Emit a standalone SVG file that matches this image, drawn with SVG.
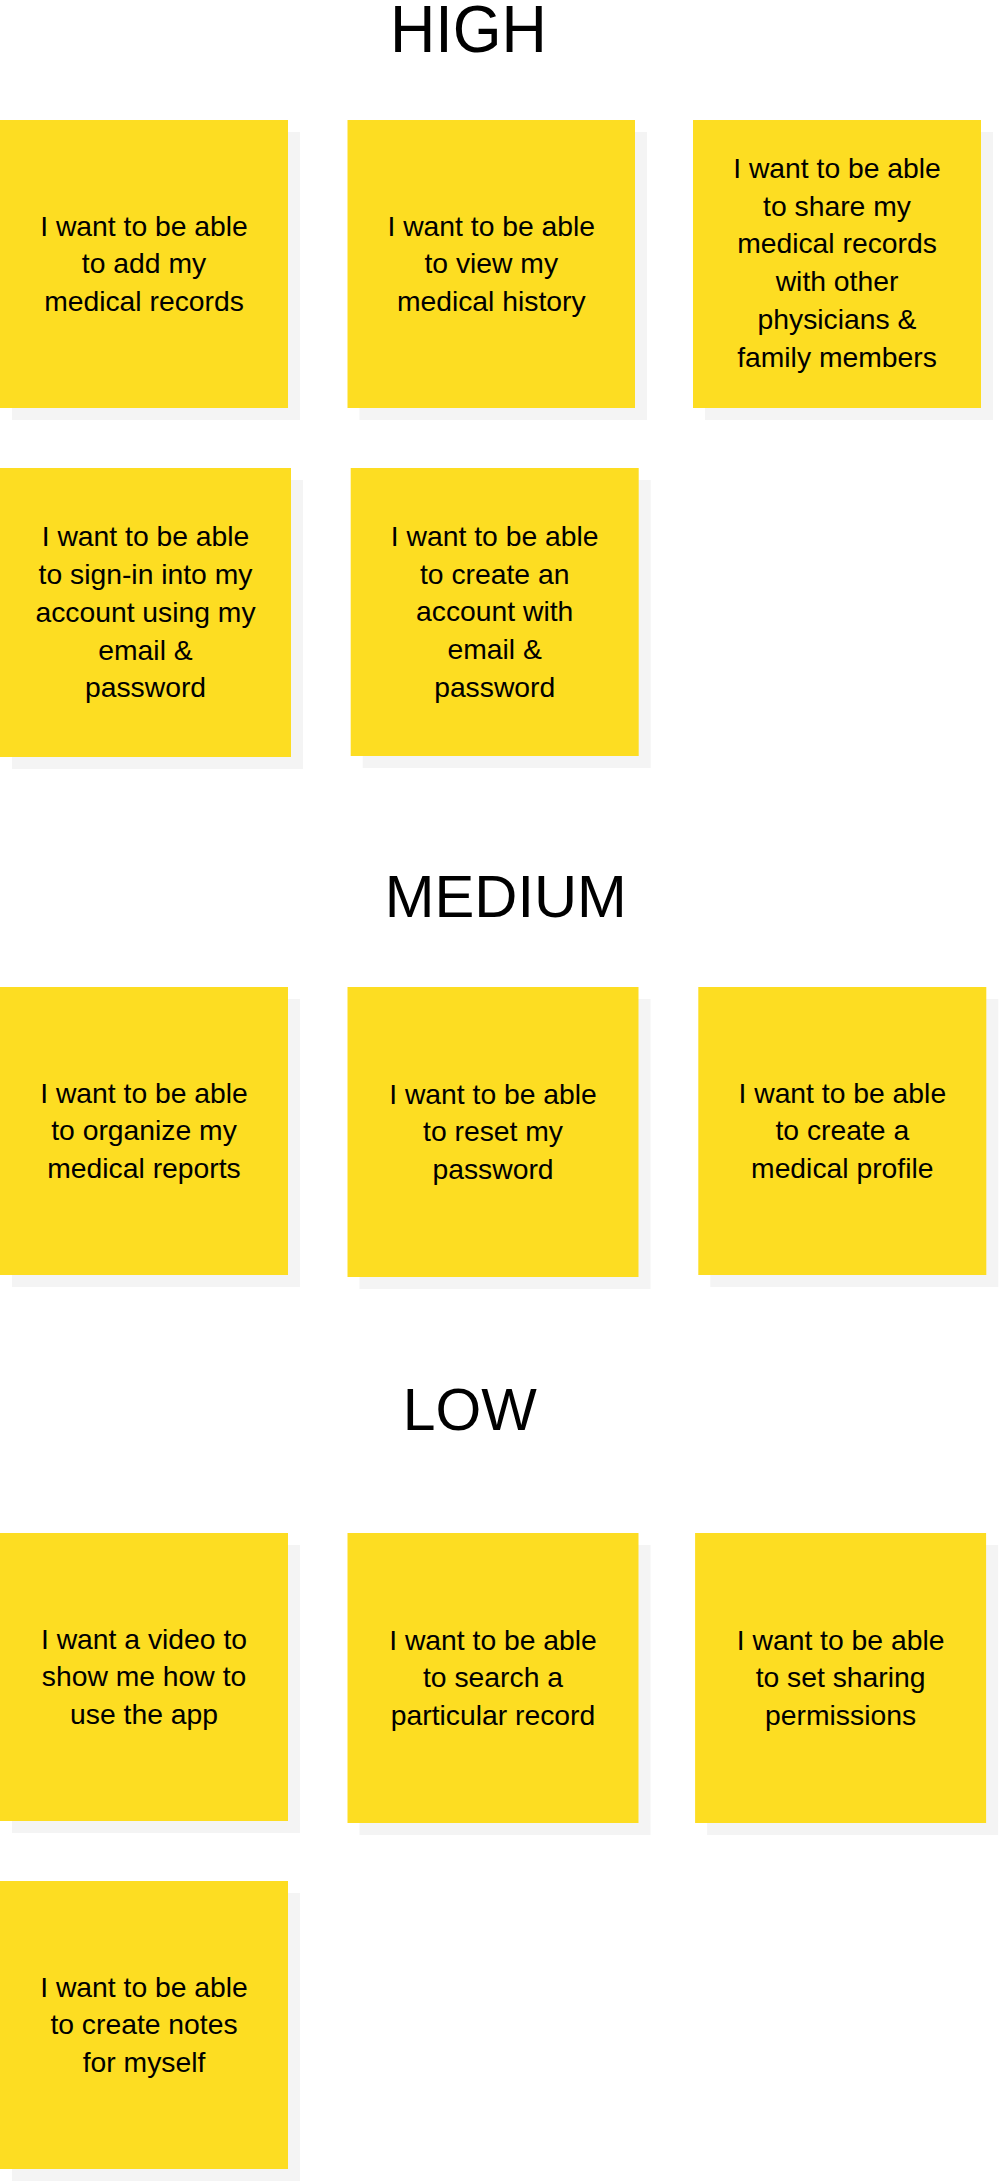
<svg xmlns="http://www.w3.org/2000/svg" width="999" height="2181" viewBox="0 0 999 2181">
<style>
.bg{fill:#ffffff}
.card{fill:#fddd22}
.shadow{fill:#f4f4f4}
.title{font-family:"Liberation Sans",Arial,sans-serif;fill:#000;text-anchor:middle}
.t{font-family:"Liberation Sans",Arial,sans-serif;font-size:28.3px;fill:#000;text-anchor:middle}
</style>
<rect class="bg" x="0" y="0" width="999" height="2181"/>

<g id="title-high"><text class="title" x="468.4" y="52" font-size="66" textLength="157" lengthAdjust="spacingAndGlyphs">HIGH</text></g>
<g id="title-medium"><text class="title" x="505.8" y="916.7" font-size="58.5" textLength="242" lengthAdjust="spacingAndGlyphs">MEDIUM</text></g>
<g id="title-low"><text class="title" x="469.7" y="1430" font-size="58.5" textLength="134" lengthAdjust="spacingAndGlyphs">LOW</text></g>

<g id="card-add-records">
<rect class="shadow" x="12" y="132" width="288" height="288"/>
<rect class="card" x="0" y="120" width="288" height="288"/>
<text class="t"><tspan x="144" y="235.6">I want to be able</tspan><tspan x="144" y="273.3">to add my</tspan><tspan x="144" y="311">medical records</tspan></text>
</g>

<g id="card-view-history">
<rect class="shadow" x="359.5" y="132" width="287.5" height="288"/>
<rect class="card" x="347.5" y="120" width="287.5" height="288"/>
<text class="t"><tspan x="491.25" y="235.6">I want to be able</tspan><tspan x="491.25" y="273.3">to view my</tspan><tspan x="491.25" y="311">medical history</tspan></text>
</g>

<g id="card-share-records">
<rect class="shadow" x="705" y="132" width="288" height="288"/>
<rect class="card" x="693" y="120" width="288" height="288"/>
<text class="t"><tspan x="837" y="178">I want to be able</tspan><tspan x="837" y="215.7">to share my</tspan><tspan x="837" y="253.4">medical records</tspan><tspan x="837" y="291.1">with other</tspan><tspan x="837" y="328.8">physicians &amp;</tspan><tspan x="837" y="366.5">family members</tspan></text>
</g>

<g id="card-sign-in">
<rect class="shadow" x="12" y="480" width="291" height="289"/>
<rect class="card" x="0" y="468" width="291" height="289"/>
<text class="t"><tspan x="145.5" y="546.4">I want to be able</tspan><tspan x="145.5" y="584.1">to sign-in into my</tspan><tspan x="145.5" y="621.8">account using my</tspan><tspan x="145.5" y="659.5">email &amp;</tspan><tspan x="145.5" y="697.2">password</tspan></text>
</g>

<g id="card-create-account">
<rect class="shadow" x="362.7" y="480" width="288" height="288"/>
<rect class="card" x="350.7" y="468" width="288" height="288"/>
<text class="t"><tspan x="494.7" y="545.9">I want to be able</tspan><tspan x="494.7" y="583.6">to create an</tspan><tspan x="494.7" y="621.3">account with</tspan><tspan x="494.7" y="659">email &amp;</tspan><tspan x="494.7" y="696.7">password</tspan></text>
</g>

<g id="card-organize-reports">
<rect class="shadow" x="12" y="999" width="288" height="288"/>
<rect class="card" x="0" y="987" width="288" height="288"/>
<text class="t"><tspan x="144" y="1102.6">I want to be able</tspan><tspan x="144" y="1140.3">to organize my</tspan><tspan x="144" y="1178">medical reports</tspan></text>
</g>

<g id="card-reset-password">
<rect class="shadow" x="359.5" y="999" width="291" height="290"/>
<rect class="card" x="347.5" y="987" width="291" height="290"/>
<text class="t"><tspan x="493" y="1103.6">I want to be able</tspan><tspan x="493" y="1141.3">to reset my</tspan><tspan x="493" y="1179">password</tspan></text>
</g>

<g id="card-medical-profile">
<rect class="shadow" x="710.3" y="999" width="288" height="288"/>
<rect class="card" x="698.3" y="987" width="288" height="288"/>
<text class="t"><tspan x="842.3" y="1102.6">I want to be able</tspan><tspan x="842.3" y="1140.3">to create a</tspan><tspan x="842.3" y="1178">medical profile</tspan></text>
</g>

<g id="card-video">
<rect class="shadow" x="12" y="1545" width="288" height="288"/>
<rect class="card" x="0" y="1533" width="288" height="288"/>
<text class="t"><tspan x="144" y="1648.6">I want a video to</tspan><tspan x="144" y="1686.3">show me how to</tspan><tspan x="144" y="1724">use the app</tspan></text>
</g>

<g id="card-search-record">
<rect class="shadow" x="359.5" y="1545" width="291" height="290"/>
<rect class="card" x="347.5" y="1533" width="291" height="290"/>
<text class="t"><tspan x="493" y="1649.6">I want to be able</tspan><tspan x="493" y="1687.3">to search a</tspan><tspan x="493" y="1725">particular record</tspan></text>
</g>

<g id="card-sharing-permissions">
<rect class="shadow" x="707.1" y="1545" width="291" height="290"/>
<rect class="card" x="695.1" y="1533" width="291" height="290"/>
<text class="t"><tspan x="840.6" y="1649.6">I want to be able</tspan><tspan x="840.6" y="1687.3">to set sharing</tspan><tspan x="840.6" y="1725">permissions</tspan></text>
</g>

<g id="card-notes">
<rect class="shadow" x="12" y="1893" width="288" height="288"/>
<rect class="card" x="0" y="1881" width="288" height="288"/>
<text class="t"><tspan x="144" y="1996.6">I want to be able</tspan><tspan x="144" y="2034.3">to create notes</tspan><tspan x="144" y="2072">for myself</tspan></text>
</g>
</svg>
